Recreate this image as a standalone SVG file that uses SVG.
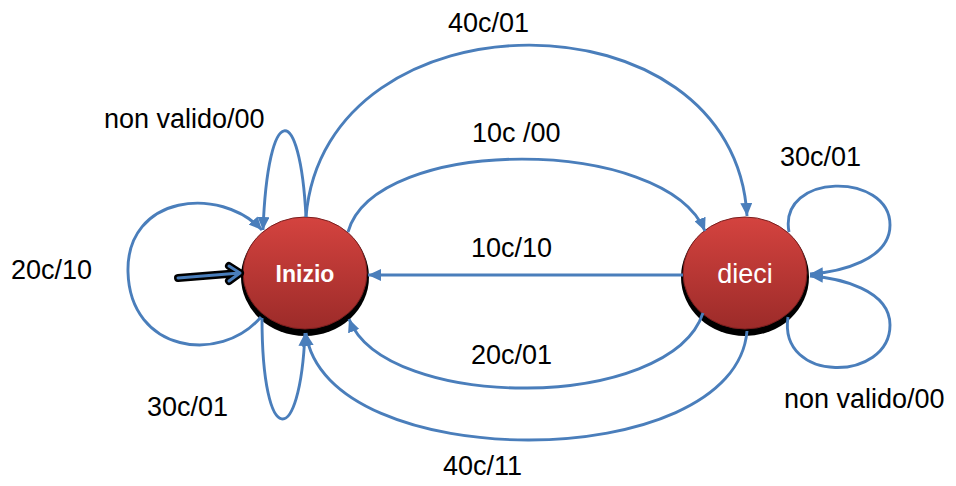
<svg xmlns="http://www.w3.org/2000/svg" width="956" height="486" viewBox="0 0 956 486">
<style>
.edge{fill:none;stroke:#4a7ebb;stroke-width:2.9;marker-end:url(#ah)}
.lbl{font-family:"Liberation Sans",Arial,sans-serif;font-size:27px;fill:#000}
.nodetxt{font-family:"Liberation Sans",Arial,sans-serif;fill:#fff;text-anchor:middle}
</style>
<defs>
<linearGradient id="red" x1="0" y1="0" x2="0" y2="1">
<stop offset="0" stop-color="#d4433f"/>
<stop offset="1" stop-color="#9c2b29"/>
</linearGradient>
<marker id="ah" markerUnits="userSpaceOnUse" markerWidth="14" markerHeight="12" refX="13" refY="6" orient="auto">
<path d="M0,0 L13,6 L0,12 Z" fill="#4a7ebb"/>
</marker>
</defs>
<rect width="956" height="486" fill="#fff"/>
<g id="inizio">
<ellipse cx="305" cy="277" rx="64" ry="59" fill="#000"/>
<ellipse cx="305" cy="273" rx="62" ry="56" fill="url(#red)" stroke="#7a1e1e" stroke-width="1"/>
<text class="nodetxt" x="305" y="282" font-size="23" font-weight="bold">Inizio</text>
</g>
<g id="dieci">
<ellipse cx="745" cy="277" rx="64" ry="59" fill="#000"/>
<ellipse cx="745" cy="273" rx="62" ry="56" fill="url(#red)" stroke="#7a1e1e" stroke-width="1"/>
<text class="nodetxt" x="745" y="283" font-size="27">dieci</text>
</g>
<g id="connectors">
<path class="edge" d="M306,217 C 325,-12 735,-12 747,216"/>
<path class="edge" d="M348,232 C 375,135 665,135 705,231"/>
<path class="edge" d="M683,275 L368,275"/>
<path class="edge" d="M703,313 C 670,412 385,412 349,319"/>
<path class="edge" d="M747,331 C 735,476 325,476 306,333"/>
<path class="edge" d="M306,217 C 300,100 268,100 263,230"/>
<path class="edge" d="M261,317 C 220,365 130,352 128,272 C 126,195 220,185 262,230"/>
<path class="edge" d="M262,318 C 262,450 300,450 305,333"/>
<path class="edge" d="M789,232 C 778,172 890,172 890,225 C 890,260 840,272 810,274"/>
<path class="edge" d="M788,317 C 778,384 890,382 890,325 C 890,290 840,278 810,276"/>
<g id="start">
<path d="M178,278 L240,273 M229,266 L240,273 L229,281" fill="none" stroke="#000" stroke-width="8" stroke-linecap="round" stroke-linejoin="round"/>
<path d="M178,278 L240,273 M229,266 L240,273 L229,281" fill="none" stroke="#4a7ebb" stroke-width="3" stroke-linecap="round" stroke-linejoin="round"/>
</g>
</g>
<g id="labels">
<text class="lbl" x="448" y="32">40c/01</text>
<text class="lbl" x="104" y="128">non valido/00</text>
<text class="lbl" x="472" y="142">10c /00</text>
<text class="lbl" x="780" y="166">30c/01</text>
<text class="lbl" x="11" y="279">20c/10</text>
<text class="lbl" x="471" y="257">10c/10</text>
<text class="lbl" x="471" y="364">20c/01</text>
<text class="lbl" x="147" y="416">30c/01</text>
<text class="lbl" x="784" y="408">non valido/00</text>
<text class="lbl" x="443" y="475">40c/11</text>
</g>
</svg>
